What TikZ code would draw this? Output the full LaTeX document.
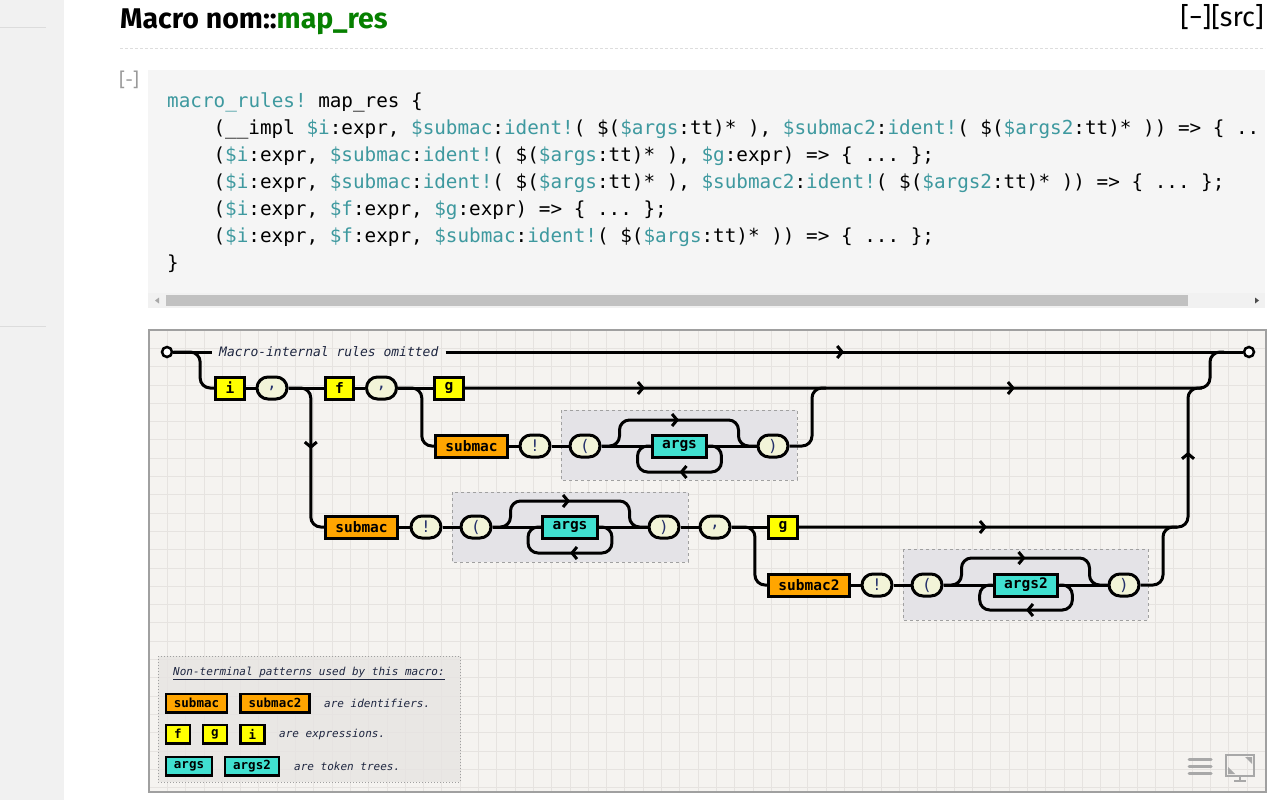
\documentclass[tikz,border=0pt]{standalone}
\usepackage{fontspec}
\setmainfont{Fira Sans}
\newfontfamily\codefont{DejaVu Sans Mono}
\usetikzlibrary{arrows.meta,calc}
\usetikzlibrary{decorations.markings}
\definecolor{sidebg}{HTML}{F1F1F1}
\definecolor{sideline}{HTML}{DCDCDC}
\definecolor{macrogreen}{HTML}{068000}
\definecolor{rulegray}{HTML}{DDDDDD}
\definecolor{togglegray}{HTML}{9A9A9A}
\definecolor{codebg}{HTML}{F5F5F5}
\definecolor{codeteal}{HTML}{3E999F}
\definecolor{scrolltrack}{HTML}{F1F1F1}
\definecolor{scrollthumb}{HTML}{C1C1C1}
\definecolor{diagbg}{HTML}{F5F3F0}
\definecolor{gridline}{HTML}{E6E3E0}
\definecolor{diagframe}{HTML}{A0A0A0}
\definecolor{grpbg}{HTML}{E4E3E7}
\definecolor{grpline}{HTML}{A0A0A0}
\definecolor{pillbg}{HTML}{F2F4D8}
\definecolor{termtext}{HTML}{23306A}
\definecolor{ntyellow}{HTML}{FFFF00}
\definecolor{ntorange}{HTML}{FFA500}
\definecolor{ntcyan}{HTML}{40E0D0}
\definecolor{legbg}{HTML}{E6E4E2}
\definecolor{notetext}{HTML}{1E2640}
\definecolor{icongray}{HTML}{A8A8A8}
\newcommand\mv[1]{\textcolor{codeteal}{#1}}
\frenchspacing

\begin{document}
\begin{tikzpicture}[x=1pt, y=-1pt,
  track/.style={line width=3pt, rounded corners=10pt},
  arrowat/.style={postaction={decorate, decoration={markings,
    mark=at position #1 with {\arrow{Straight Barb[length=5pt,width=12pt]}}}}},
  nt/.style={draw, line width=3pt, inner xsep=10pt, inner ysep=0pt, minimum height=22pt,
    font=\codefont\bfseries\fontsize{14.5}{17}\selectfont},
  ntexpr/.style={nt, fill=ntyellow},
  ntident/.style={nt, fill=ntorange},
  nttt/.style={nt, fill=ntcyan},
  term/.style={draw, line width=3pt, rounded corners=11pt, fill=pillbg, minimum width=30pt,
    minimum height=22pt, inner sep=0pt, text=termtext, font=\codefont\fontsize{16}{18}\selectfont},
  grp/.style={draw=grpline, fill=grpbg, dashed, line width=1pt},
  note/.style={inner xsep=7pt, text=notetext, font=\codefont\itshape\fontsize{13}{15}\selectfont},
  lnt/.style={draw, line width=2.5pt, inner xsep=8pt, inner ysep=0pt, minimum height=18.5pt,
    font=\codefont\bfseries\fontsize{12.5}{15}\selectfont},
  legnote/.style={anchor=west, inner sep=0pt, text=notetext, font=\codefont\itshape\fontsize{11}{13}\selectfont},
  codeline/.style={anchor=base west, inner sep=0pt, font=\codefont\fontsize{19.3}{22}\selectfont},
  endpoint/.style={circle, draw, line width=2.5pt, fill=white, minimum size=10pt, inner sep=0pt}]
\useasboundingbox (0,0) rectangle (1280,800);
\fill[white] (0,0) rectangle (1280,800);

% page around the diagram
\fill[sidebg] (0,0) rectangle (64,800);
\draw[sideline, line width=1pt] (0,28) -- (46,28);
\draw[sideline, line width=1pt] (0,326) -- (46,326);
\node[anchor=base west, inner sep=0pt, font=\bfseries\fontsize{28.5}{32}\selectfont] (title) at (120,29)
  {Macro nom::\textcolor{macrogreen}{map\_res}};
\node[anchor=base east, inner sep=0pt, font=\fontsize{27}{30}\selectfont] (srclink) at (1264,27) {[−][src]};
\draw[rulegray, line width=1pt, dash pattern=on 3pt off 2pt] (120,49) -- (1265,49);
\node[anchor=base west, inner sep=0pt, text=togglegray, font=\fontsize{19}{20}\selectfont] (toggle) at (119,87) {[-]};

\fill[codebg] (148,70) rectangle (1265,293);
\node[codeline] (l1) at (167,107) {\mv{macro\_rules!} map\_res \{};
\node[codeline] (l2) at (213.4,134) {(\_\_impl \mv{\$i}:expr, \mv{\$submac}:\mv{ident!}( \$(\mv{\$args}:tt)* ), \mv{\$submac2}:\mv{ident!}( \$(\mv{\$args2}:tt)* )) => \{ ..};
\node[codeline] (l3) at (213.4,161) {(\mv{\$i}:expr, \mv{\$submac}:\mv{ident!}( \$(\mv{\$args}:tt)* ), \mv{\$g}:expr) => \{ ... \};};
\node[codeline] (l4) at (213.4,188) {(\mv{\$i}:expr, \mv{\$submac}:\mv{ident!}( \$(\mv{\$args}:tt)* ), \mv{\$submac2}:\mv{ident!}( \$(\mv{\$args2}:tt)* )) => \{ ... \};};
\node[codeline] (l5) at (213.4,215) {(\mv{\$i}:expr, \mv{\$f}:expr, \mv{\$g}:expr) => \{ ... \};};
\node[codeline] (l6) at (213.4,242) {(\mv{\$i}:expr, \mv{\$f}:expr, \mv{\$submac}:\mv{ident!}( \$(\mv{\$args}:tt)* )) => \{ ... \};};
\node[codeline] (l7) at (167,269) {\}};
\fill[scrolltrack] (148,293) rectangle (1265,308);
\fill[scrollthumb] (166,295) rectangle (1188,306);
\fill[icongray] (155,300.5) -- (159,297.5) -- (159,303.5) -- cycle;
\fill[black!70] (1259,300.5) -- (1255,297.5) -- (1255,303.5) -- cycle;

% diagram frame and grid
\fill[diagbg] (149,330) rectangle (1266,792);
\foreach \gx in {149,167.3,...,1266} \draw[gridline, line width=0.8pt] (\gx,330) -- (\gx,792);
\foreach \gy in {330,348.3,...,792} \draw[gridline, line width=0.8pt] (149,\gy) -- (1266,\gy);
\draw[diagframe, line width=1.5pt] (149,330) rectangle (1266,792);

\draw[grp] (561,410) rectangle (797,480);
\draw[grp] (452,492) rectangle (688,562);
\draw[grp] (903,549) rectangle (1148,620);

% nodes
\node[endpoint] (entry) at (167,352) {};
\node[endpoint] (exit) at (1249,352) {};
\node[note, anchor=west] (omit) at (212,352) {Macro-internal rules omitted};

\node[ntexpr] (i) at (230,388) {i};
\node[term] (commaA) at (272,388) {,};
\node[ntexpr] (f) at (339.5,388) {f};
\node[term] (commaB) at (381.5,388) {,};
\node[ntexpr] (g) at (449,388) {g};

\node[ntident] (submacA) at (471.5,446) {submac};
\node[term] (bangA) at (535,446) {!};
\node[term] (lparA) at (585,446) {(};
\node[nttt] (argsA) at (679.5,446) {args};
\node[term] (rparA) at (773,446) {)};

\node[ntident] (submacB) at (361.5,527) {submac};
\node[term] (bangB) at (426,527) {!};
\node[term] (lparB) at (476,527) {(};
\node[nttt] (argsB) at (570,527) {args};
\node[term] (rparB) at (664,527) {)};
\node[term] (commaC) at (715,527) {,};
\node[ntexpr] (gB) at (783,527) {g};

\node[ntident] (submacC) at (809,585) {submac2};
\node[term] (bangC) at (877,585) {!};
\node[term] (lparC) at (927,585) {(};
\node[nttt] (argsC) at (1026,585) {args2};
\node[term] (rparC) at (1124,585) {)};

\coordinate (jA) at (826,388);
\coordinate (jB) at (1202,388);
\coordinate (jC) at (1177,527);
\coordinate (jT) at (1224,352);

% tracks
\draw[track] (entry) -- (omit);
\draw[track, arrowat=0.5] (omit) -- (exit);
\draw[track] (entry.east) -| ($(i.west)+(-14,0)$) -- (i.west);
\draw[track] (i) -- (commaA) -- (f) -- (commaB) -- (g);
\draw[track, arrowat=180pt, arrowat=550pt] (g.east) -| ($(jT)+(-14,0)$) -- (jT);

\draw[track] (commaB.east) -| ($(submacA.west)+(-12,0)$) -- (submacA.west);
\draw[track] (submacA) -- (bangA) -- (lparA) -- (argsA) -- (rparA);
\draw[track, arrowat=0.5] (lparA.east) -| ($(lparA.east)+(18,-26)$) -| ($(rparA.west)+(-18,0)$) -- (rparA.west);
\draw[track, arrowat=0.5] (argsA.east) -| ($(argsA.east)+(13,26)$) -| ($(argsA.west)+(-13,0)$) -- (argsA.west);
\draw[track] (rparA.east) -| ($(jA)+(-14,0)$) -- (jA);

\draw[track, arrowat=79pt] (commaA.east) -| ($(submacB.west)+(-13,0)$) -- (submacB.west);
\draw[track] (submacB) -- (bangB) -- (lparB) -- (argsB) -- (rparB) -- (commaC) -- (gB);
\draw[track, arrowat=0.5] (lparB.east) -| ($(lparB.east)+(18,-26)$) -| ($(rparB.west)+(-18,0)$) -- (rparB.west);
\draw[track, arrowat=0.5] (argsB.east) -| ($(argsB.east)+(13,26)$) -| ($(argsB.west)+(-13,0)$) -- (argsB.west);
\draw[track, arrowat=188pt, arrowat=460pt] (gB.east) -| ($(jB)+(-14,0)$) -- (jB);

\draw[track] (commaC.east) -| ($(submacC.west)+(-12,0)$) -- (submacC.west);
\draw[track] (submacC) -- (bangC) -- (lparC) -- (argsC) -- (rparC);
\draw[track, arrowat=0.5] (lparC.east) -| ($(lparC.east)+(18,-27)$) -| ($(rparC.west)+(-18,0)$) -- (rparC.west);
\draw[track, arrowat=0.5] (argsC.east) -| ($(argsC.east)+(13,25)$) -| ($(argsC.west)+(-13,0)$) -- (argsC.west);
\draw[track] (rparC.east) -| ($(jC)+(-14,0)$) -- (jC);

% legend
\draw[diagframe, fill=legbg, fill opacity=0.8, draw opacity=1, line width=1pt, dotted] (158,656) rectangle (460,782);
\node[text=notetext, inner sep=0pt, font=\codefont\itshape\fontsize{11}{13}\selectfont] (legtitle) at (309,673)
  {\underline{Non-terminal patterns used by this macro:}};
\node[lnt, fill=ntorange] (legsubmac) at (196.5,703) {submac};
\node[lnt, fill=ntorange] (legsubmacii) at (275,703) {submac2};
\node[legnote] (legident) at (324,703) {are identifiers.};
\node[lnt, fill=ntyellow] (legf) at (178,734) {f};
\node[lnt, fill=ntyellow] (legg) at (215,734) {g};
\node[lnt, fill=ntyellow] (legi) at (252.5,734) {i};
\node[legnote] (legexpr) at (279,734) {are expressions.};
\node[lnt, fill=ntcyan] (legargs) at (189,766) {args};
\node[lnt, fill=ntcyan] (legargsii) at (252,766) {args2};
\node[legnote] (legtt) at (294,766) {are token trees.};

% corner icons
\draw[icongray, line width=3pt, line cap=round] (1189,759) -- (1211,759);
\draw[icongray, line width=3pt, line cap=round] (1189,766) -- (1211,766);
\draw[icongray, line width=3pt, line cap=round] (1189,773) -- (1211,773);
\draw[icongray, line width=2pt] (1226,755) rectangle (1254,776);
\draw[icongray, line width=2pt] (1240,776) -- (1240,780) (1234,780.5) -- (1246,780.5);
\fill[icongray] (1245,757) -- (1252,757) -- (1252,764) -- cycle;
\fill[icongray] (1228,767) -- (1228,774) -- (1235,774) -- cycle;
\end{tikzpicture}
\end{document}
